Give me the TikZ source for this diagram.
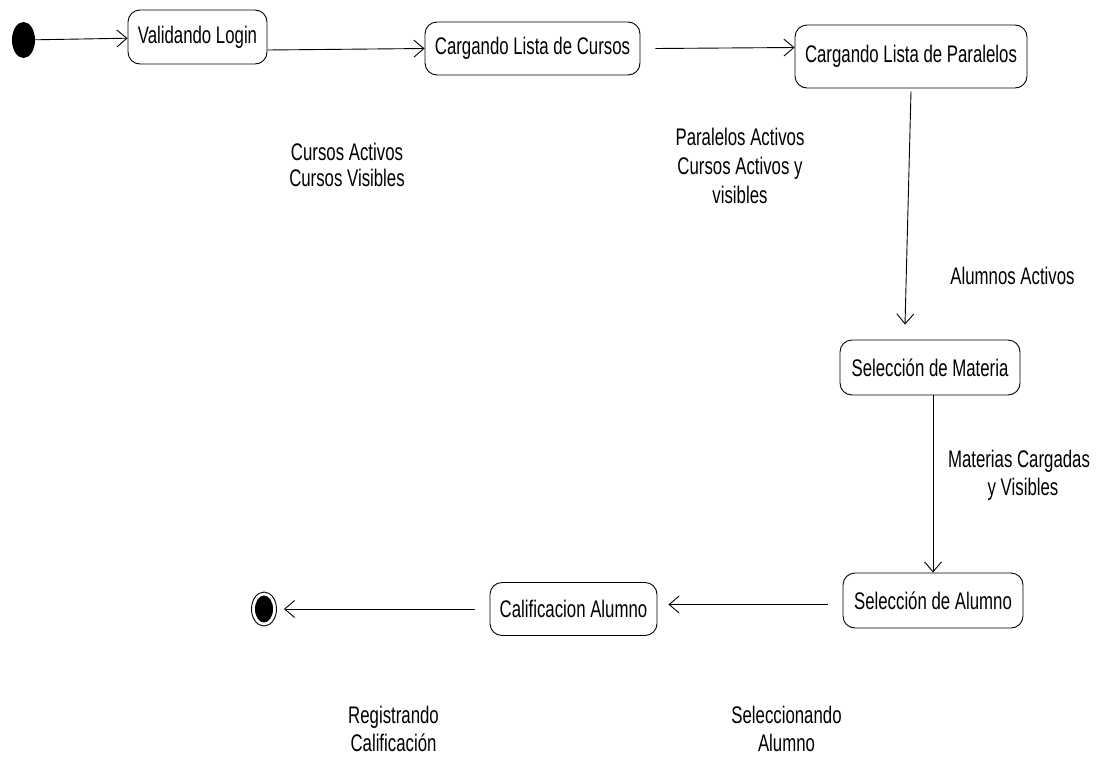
\documentclass[tikz,border=0pt]{standalone}
\usepackage{fontspec}
\setmainfont[FakeStretch=0.70]{Liberation Sans}
\usetikzlibrary{arrows.meta,shapes.geometric}
\tikzset{
  state/.style={draw, rounded corners=12pt, line width=0.9pt, inner sep=0pt, align=center, font=\fontsize{24}{28}\selectfont},
  lbl/.style={align=center, inner sep=0pt},
  flow/.style={line width=0.9pt, -{Straight Barb[length=10pt,width=17pt,line width=0.9pt]}},
}
\begin{document}
\begin{tikzpicture}[x=1pt,y=-1pt]
\useasboundingbox (0,0) rectangle (1111,758);
% initial and final pseudostates
\node[ellipse, fill=black, minimum width=23pt, minimum height=36pt, inner sep=0pt] (ini) at (23.5,40) {};
\node[ellipse, draw, line width=0.9pt, minimum width=25pt, minimum height=34pt, inner sep=0pt] (fin) at (264,609) {};
\node[ellipse, fill=black, minimum width=18pt, minimum height=27pt, inner sep=0pt] (finc) at (264,609) {};
% states
\node[state, minimum width=139pt, minimum height=54pt] (val) at (197.5,37) {Validando Login};
\node[state, minimum width=215pt, minimum height=53pt] (cur) at (532.5,48.5) {Cargando Lista de Cursos};
\node[state, minimum width=232pt, minimum height=63pt] (par) at (911,56.5) {Cargando Lista de Paralelos};
\node[state, minimum width=180pt, minimum height=55pt] (mat) at (930,367.5) {Selección de Materia};
\node[state, minimum width=180pt, minimum height=55pt] (alu) at (933,600.5) {Selección de Alumno};
\node[state, minimum width=167pt, minimum height=53pt] (cal) at (573.5,609) {Calificacion Alumno};
% guard labels
\node[lbl, font=\fontsize{24}{26}\selectfont] (g1) at (347,165.2) {Cursos Activos\\Cursos Visibles};
\node[lbl, font=\fontsize{24}{29}\selectfont] (g2) at (740,165.5) {Paralelos Activos\\Cursos Activos y\\visibles};
\node[lbl, font=\fontsize{24}{28}\selectfont] (g3) at (1012.5,275.6) {Alumnos Activos};
\node[lbl, font=\fontsize{24}{28}\selectfont] (g4) at (1019,475.5) {Materias Cargadas\\\hspace*{8pt}y Visibles};
\node[lbl, font=\fontsize{24}{28.4}\selectfont] (g5) at (393.5,729) {Registrando\\Calificación};
\node[lbl, font=\fontsize{24}{28.4}\selectfont] (g6) at (786.5,729) {Seleccionando\\Alumno};
% transitions
\draw[flow] (ini) -- (val);
\draw[flow] ([yshift=-13pt]val.east) -- (cur.west);
\draw[flow] ([xshift=15pt]cur.east) -- ([yshift=9pt]par.west);
\draw[flow] ([yshift=-3pt]par.south) -- ([xshift=-25pt,yshift=15pt]mat.north);
\draw[flow] ([xshift=3pt]mat.south) -- (alu.north);
\draw[flow] ([xshift=-15pt,yshift=-4pt]alu.west) -- ([xshift=11pt,yshift=4.5pt]cal.east);
\draw[flow] ([xshift=-15pt]cal.west) -- ([xshift=7pt]fin.east);
\end{tikzpicture}
\end{document}
